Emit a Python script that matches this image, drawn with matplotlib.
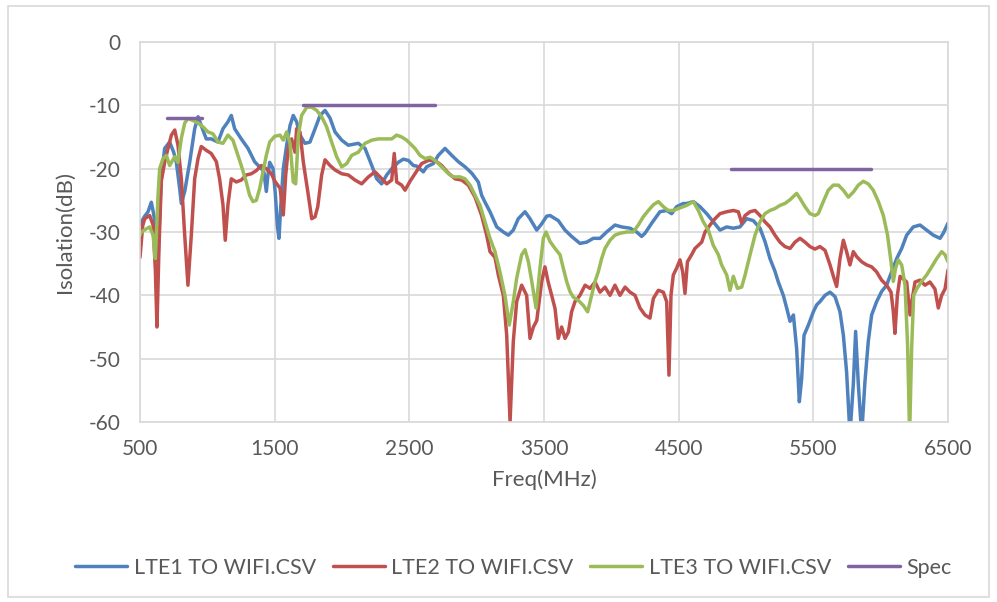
import numpy as np
import matplotlib
matplotlib.use("Agg")
import matplotlib.pyplot as plt
from matplotlib.patches import Rectangle

plt.rcParams['font.family'] = ['Lato', 'DejaVu Sans']
plt.rcParams['axes.unicode_minus'] = False

# ---------------------------------------------------------
# data (MHz, dB)
# ---------------------------------------------------------
lte1_f = [500, 510, 535, 560, 584, 600, 620, 634, 645, 658, 683, 720, 750, 770, 795, 807, 832, 869,
          906, 931, 955, 992, 1029, 1079, 1116, 1153, 1178, 1203, 1252, 1302, 1351, 1401, 1420, 1438,
          1450, 1463, 1488, 1505, 1520, 1532, 1545, 1564, 1589, 1614, 1638, 1663, 1688, 1725, 1762,
          1800, 1837, 1874, 1911, 1948, 1998, 2047, 2121, 2171, 2221, 2258, 2294, 2332, 2369, 2418,
          2455, 2493, 2530, 2555, 2604, 2629, 2678, 2715, 2765, 2815, 2864, 2913, 2963, 3012, 3037,
          3062, 3099, 3149, 3198, 3235, 3272, 3309, 3359, 3396, 3446, 3483, 3520, 3545, 3606, 3656,
          3705, 3767, 3817, 3866, 3916, 3965, 4027, 4077, 4139, 4188, 4225, 4250, 4300, 4361, 4411,
          4448, 4485, 4534, 4559, 4609, 4658, 4708, 4757, 4807, 4856, 4906, 4955, 5005, 5054, 5104,
          5141, 5178, 5215, 5240, 5277, 5302, 5327, 5352, 5376, 5396, 5413, 5431, 5463, 5500, 5525,
          5549, 5587, 5624, 5661, 5698, 5723, 5747, 5772, 5797, 5814, 5834, 5859, 5883, 5908, 5933,
          5970, 6007, 6044, 6081, 6119, 6156, 6193, 6242, 6292, 6341, 6391, 6441, 6465, 6500]
lte1_db = [-28.8, -28.4, -27.5, -26.8, -25.3, -27.0, -30.0, -34.7, -28.0, -21.6, -16.8, -15.8, -17.4,
           -19.0, -23.2, -25.5, -23.6, -19.0, -13.7, -11.8, -13.2, -15.3, -15.3, -15.8, -13.7, -12.6,
           -11.6, -13.7, -15.3, -16.8, -18.9, -20.0, -20.5, -23.6, -21.0, -19.0, -20.0, -24.0, -29.0,
           -31.0, -26.0, -20.0, -16.3, -13.2, -11.6, -12.6, -14.7, -16.0, -15.8, -13.7, -11.6, -10.8,
           -12.0, -14.2, -15.5, -16.3, -16.0, -16.8, -19.5, -21.6, -22.4, -21.0, -20.0, -19.0, -18.5,
           -18.7, -19.5, -19.6, -20.5, -19.7, -19.2, -17.9, -16.8, -17.9, -18.9, -19.7, -20.7, -22.1,
           -24.2, -25.3, -26.8, -29.2, -30.0, -30.5, -29.7, -27.9, -26.8, -27.9, -29.7, -28.7, -27.5,
           -27.4, -28.2, -29.7, -30.7, -31.8, -31.6, -31.0, -31.0, -30.0, -28.9, -29.2, -29.4, -30.0,
           -30.7, -30.2, -28.6, -26.8, -26.6, -27.1, -26.0, -25.5, -25.5, -25.2, -26.0, -27.1, -28.4,
           -29.7, -29.2, -29.4, -29.2, -27.9, -28.2, -29.4, -31.5, -34.2, -36.2, -37.9, -40.0, -42.0,
           -44.1, -43.1, -48.4, -56.8, -53.2, -46.3, -44.7, -42.6, -41.5, -41.0, -40.0, -39.5, -40.2,
           -42.6, -46.3, -52.1, -62.0, -54.0, -45.7, -54.0, -62.0, -53.7, -47.3, -43.1, -41.0, -39.4,
           -38.4, -36.3, -34.2, -32.6, -30.5, -29.2, -28.9, -29.7, -30.5, -31.0, -30.2, -28.6]

lte2_f = [500, 520, 535, 572, 597, 614, 626, 641, 658, 683, 708, 733, 758, 782, 807, 832, 856, 881,
          906, 931, 955, 992, 1029, 1067, 1091, 1116, 1133, 1153, 1178, 1215, 1252, 1289, 1327, 1364,
          1401, 1438, 1475, 1502, 1540, 1564, 1582, 1601, 1626, 1651, 1663, 1688, 1713, 1750, 1775,
          1800, 1820, 1849, 1874, 1911, 1948, 1998, 2047, 2097, 2146, 2196, 2245, 2295, 2332, 2369,
          2388, 2406, 2443, 2468, 2505, 2542, 2591, 2641, 2691, 2740, 2790, 2839, 2889, 2938, 2988,
          3037, 3074, 3099, 3136, 3161, 3198, 3223, 3248, 3272, 3297, 3334, 3371, 3396, 3421, 3446,
          3483, 3507, 3532, 3557, 3582, 3606, 3631, 3656, 3681, 3705, 3730, 3767, 3805, 3842, 3879,
          3916, 3953, 3990, 4027, 4064, 4102, 4139, 4176, 4213, 4250, 4287, 4312, 4349, 4386, 4411,
          4428, 4443, 4460, 4485, 4510, 4530, 4547, 4565, 4596, 4621, 4646, 4671, 4696, 4733, 4770,
          4807, 4857, 4906, 4943, 4968, 4993, 5030, 5067, 5104, 5141, 5178, 5215, 5252, 5289, 5327,
          5364, 5401, 5438, 5475, 5512, 5549, 5587, 5624, 5649, 5673, 5698, 5723, 5747, 5772, 5797,
          5822, 5859, 5896, 5933, 5970, 6007, 6044, 6077, 6094, 6106, 6124, 6144, 6168, 6193, 6218,
          6235, 6255, 6292, 6329, 6366, 6403, 6428, 6453, 6478, 6500]
lte2_db = [-34.0, -29.0, -27.9, -27.4, -28.9, -36.0, -45.0, -32.5, -22.0, -19.0, -16.8, -14.7, -13.9,
           -16.3, -21.6, -30.5, -38.4, -30.5, -21.6, -18.4, -16.5, -17.1, -17.6, -18.9, -21.6, -25.7,
           -31.3, -25.7, -21.6, -22.1, -21.8, -21.0, -20.8, -20.3, -19.5, -20.0, -20.8, -22.0, -23.1,
           -27.3, -21.0, -16.8, -15.3, -17.4, -13.7, -14.2, -19.0, -24.2, -27.9, -27.6, -26.0, -21.0,
           -18.6, -19.5, -20.2, -20.8, -21.0, -21.8, -22.4, -21.3, -20.5, -21.6, -22.4, -21.8, -17.6,
           -22.1, -22.6, -23.4, -22.0, -20.8, -19.2, -18.7, -18.7, -19.5, -20.7, -21.6, -21.8, -22.6,
           -24.5, -27.4, -30.5, -33.1, -34.0, -36.8, -40.0, -46.3, -60.0, -47.3, -41.0, -38.4, -40.0,
           -46.8, -45.0, -44.0, -37.8, -35.5, -38.0, -40.0, -42.1, -46.8, -45.0, -46.8, -45.8, -42.6,
           -41.0, -40.0, -38.4, -38.9, -37.9, -39.5, -38.7, -40.0, -38.4, -40.0, -38.7, -39.5, -40.0,
           -42.0, -43.1, -43.6, -40.5, -39.2, -39.5, -41.0, -52.6, -40.0, -36.8, -35.7, -34.4, -36.3,
           -39.7, -34.7, -33.6, -32.6, -32.1, -31.6, -30.0, -28.9, -27.9, -27.1, -26.8, -26.6, -26.8,
           -28.6, -27.4, -26.8, -26.6, -27.4, -28.4, -29.2, -30.5, -31.6, -32.3, -32.6, -31.6, -31.0,
           -31.6, -32.3, -32.7, -32.3, -32.9, -35.2, -37.0, -38.6, -34.2, -31.3, -33.1, -35.2, -33.1,
           -33.9, -34.7, -35.2, -35.5, -36.3, -37.6, -38.4, -39.5, -42.6, -46.0, -40.0, -37.0, -37.4,
           -37.9, -43.1, -40.5, -37.9, -37.6, -38.4, -37.9, -39.0, -42.0, -40.0, -39.0, -36.0]

lte3_f = [500, 510, 547, 572, 597, 614, 634, 646, 671, 696, 720, 758, 782, 807, 832, 856, 894, 931,
          968, 1005, 1042, 1079, 1116, 1153, 1190, 1215, 1252, 1289, 1314, 1339, 1364, 1389, 1413,
          1438, 1463, 1500, 1540, 1564, 1589, 1614, 1638, 1656, 1676, 1700, 1738, 1775, 1812, 1849,
          1886, 1923, 1960, 1998, 2035, 2072, 2121, 2171, 2221, 2270, 2319, 2369, 2406, 2443, 2480,
          2518, 2542, 2579, 2616, 2654, 2691, 2740, 2790, 2827, 2877, 2914, 2951, 2988, 3025, 3062,
          3099, 3136, 3173, 3210, 3242, 3272, 3297, 3334, 3359, 3384, 3409, 3441, 3470, 3495, 3515,
          3545, 3582, 3619, 3643, 3668, 3693, 3718, 3755, 3792, 3824, 3854, 3879, 3903, 3928, 3953,
          3990, 4027, 4064, 4114, 4163, 4200, 4237, 4275, 4312, 4349, 4386, 4423, 4460, 4497, 4534,
          4559, 4609, 4646, 4683, 4720, 4757, 4795, 4819, 4857, 4881, 4906, 4936, 4968, 4993, 5030,
          5067, 5104, 5141, 5178, 5215, 5252, 5289, 5327, 5352, 5376, 5401, 5438, 5475, 5512, 5537,
          5574, 5611, 5648, 5686, 5723, 5760, 5797, 5834, 5871, 5908, 5945, 5983, 6020, 6051, 6077,
          6094, 6111, 6131, 6156, 6181, 6200, 6215, 6230, 6245, 6267, 6304, 6341, 6379, 6416, 6453,
          6478, 6500]
lte3_db = [-30.5, -30.0, -29.5, -29.2, -30.5, -34.2, -24.2, -20.0, -18.4, -17.9, -19.5, -18.1, -19.0,
           -15.2, -12.8, -12.1, -12.4, -12.8, -13.4, -14.2, -14.5, -15.8, -16.0, -14.7, -15.5, -17.1,
           -19.5, -22.1, -24.2, -25.2, -25.0, -23.1, -20.5, -17.9, -15.8, -14.9, -14.7, -15.5, -14.2,
           -16.0, -22.1, -22.4, -14.7, -11.6, -10.3, -10.3, -10.8, -11.8, -13.4, -15.8, -18.1, -19.7,
           -19.2, -17.9, -17.4, -16.0, -15.5, -15.3, -15.3, -15.3, -14.7, -15.0, -15.5, -16.3, -16.8,
           -17.9, -18.4, -18.2, -18.7, -19.7, -20.8, -21.3, -21.3, -21.6, -22.6, -24.2, -25.8, -28.4,
           -31.0, -33.1, -36.3, -40.0, -44.7, -41.0, -37.3, -33.6, -32.8, -34.7, -37.8, -42.0, -35.7,
           -31.0, -30.0, -31.5, -32.6, -33.6, -35.7, -37.8, -39.4, -40.3, -40.8, -41.6, -42.6, -40.0,
           -37.8, -36.3, -34.2, -32.6, -31.3, -30.5, -30.2, -30.0, -30.0, -28.9, -27.6, -26.6, -25.7,
           -25.2, -26.0, -26.6, -26.6, -26.3, -26.0, -25.8, -25.2, -26.6, -28.4, -29.7, -32.1, -33.6,
           -35.2, -36.8, -39.2, -37.0, -38.9, -38.7, -36.8, -33.6, -30.5, -28.4, -27.1, -26.6, -26.3,
           -25.8, -25.5, -24.9, -24.4, -23.9, -24.7, -26.0, -27.1, -27.4, -27.1, -25.2, -23.4, -22.6,
           -22.6, -23.4, -24.5, -23.7, -22.6, -22.0, -22.4, -23.4, -25.2, -27.4, -30.5, -34.7, -37.8,
           -35.7, -34.4, -35.2, -38.4, -47.9, -62.0, -48.4, -40.0, -39.0, -37.8, -36.8, -35.5, -34.2,
           -33.1, -33.6, -34.7]

spec_f = [700, 960, np.nan, 1710, 2690, np.nan, 4890, 5925]
spec_db = [-12, -12, np.nan, -10, -10, np.nan, -20, -20]

labels = ['LTE1 TO WIFI.CSV', 'LTE2 TO WIFI.CSV', 'LTE3 TO WIFI.CSV', 'Spec']
colors = ['#4F81BD', '#C0504D', '#9BBB59', '#8064A2']

xticks = [500, 1500, 2500, 3500, 4500, 5500, 6500]
yticks = [0, -10, -20, -30, -40, -50, -60]

# ---------------------------------------------------------
# plot
# ---------------------------------------------------------
fig = plt.figure(figsize=(9.97, 6.02), dpi=100)
ax = fig.add_axes([140 / 997, 1 - 422 / 602, 808 / 997, 380 / 602])

series = [(lte1_f, lte1_db), (lte2_f, lte2_db), (lte3_f, lte3_db), (spec_f, spec_db)]
for (f, db), lab, c in zip(series, labels, colors):
    ax.plot(f, db, color=c, lw=2.5, label=lab, solid_joinstyle='round', solid_capstyle='round')

ax.set_xlim(500, 6500)
ax.set_ylim(-60, 0)
ax.set_xticks(xticks)
ax.set_yticks(yticks)
ax.grid(True, color='#d9d9d9', lw=1.2)
ax.set_axisbelow(True)
for s in ax.spines.values():
    s.set_color('#d9d9d9')
    s.set_linewidth(1.2)
ax.tick_params(length=0, labelsize=15, labelcolor='#595959')
ax.tick_params(axis='x', pad=12)
ax.tick_params(axis='y', pad=14)

ax.set_xlabel('Freq(MHz)', fontsize=16, color='#595959', labelpad=8)
ax.set_ylabel('Isolation(dB)', fontsize=16, color='#595959', labelpad=10)

fig.legend(loc='center', bbox_to_anchor=(0.515, 1 - 568 / 602), ncol=4, frameon=False,
           fontsize=15.5, handlelength=2.4, columnspacing=0.8, handletextpad=0.3,
           labelcolor='#595959')

# light frame around the whole chart
fig.patches.append(Rectangle((0.008, 0.008), 0.984, 0.982, transform=fig.transFigure,
                             fill=False, edgecolor='#d9d9d9', lw=1.2))

fig.savefig('out.png', dpi=100)
